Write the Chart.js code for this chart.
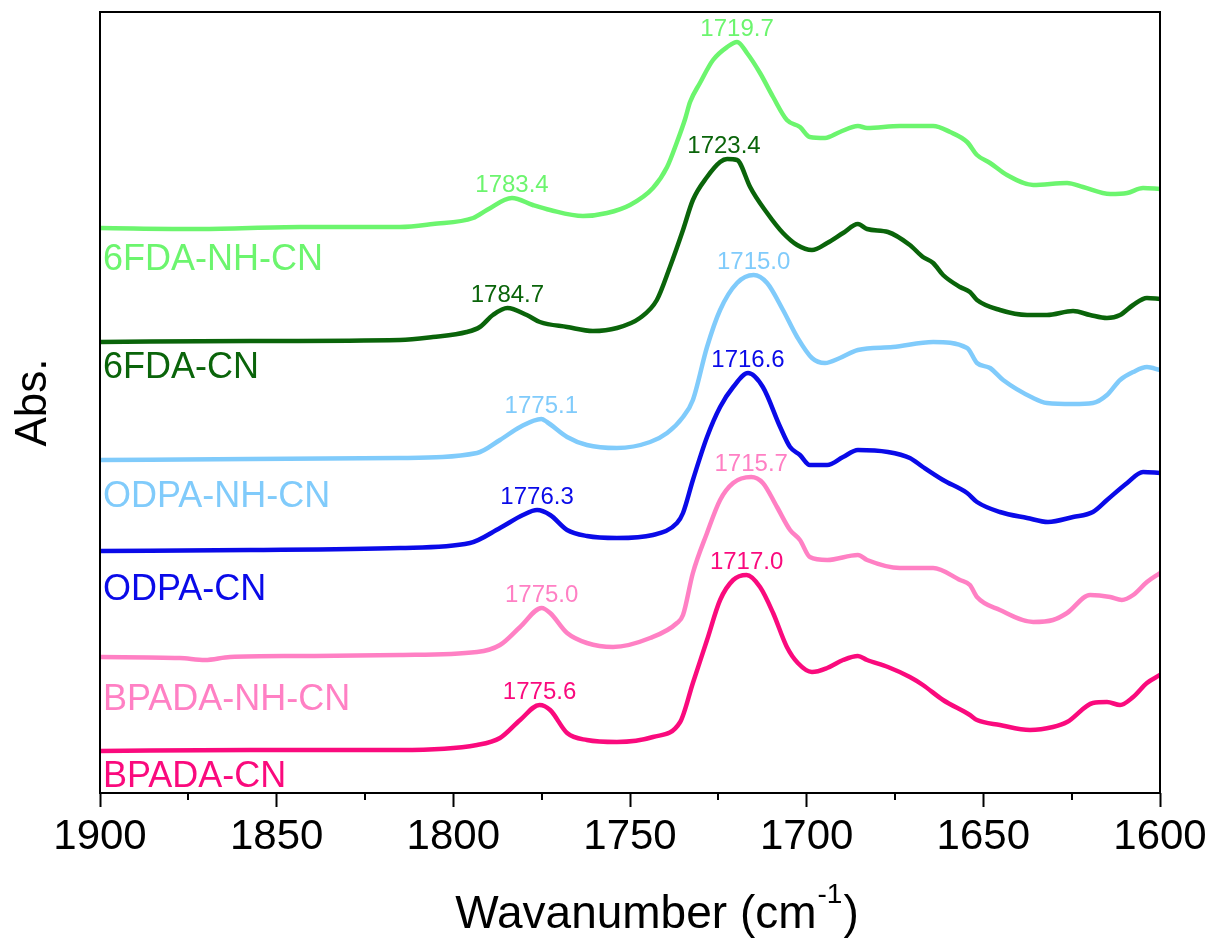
<!DOCTYPE html>
<html><head><meta charset="utf-8">
<script src="https://cdn.jsdelivr.net/npm/chart.js@4.4.1/dist/chart.umd.min.js"></script>
<style>html,body{margin:0;padding:0;background:#fff}canvas{display:block}</style>
</head><body>
<canvas id="c" width="1212" height="945"></canvas>
<script>
// ---------- data (wavenumber in cm-1, absorbance in stacked arbitrary units) ----------
const wn6FDA_NH = [1900,1871.7,1843.4,1815.1,1805.8,1794.4,1790.5,1783.4,1777.5,1772.6,1763.3,1756.5,1750.0,1743.5,1739.5,1736.7,1734.4,1733.0,1730.2,1726.5,1722.5,1719.7,1716.9,1713.2,1709.5,1705.6,1701.9,1699.1,1694.8,1690.6,1685.5,1682.9,1673.6,1664.2,1659.4,1654.6,1651.8,1648.1,1643.3,1635.9,1626.3,1621.8,1614.1,1609.3,1604.8,1600];
const abs6FDA_NH = [5.65,5.64,5.66,5.66,5.69,5.75,5.83,5.95,5.88,5.83,5.77,5.80,5.88,6.05,6.26,6.51,6.74,6.91,7.10,7.33,7.46,7.51,7.40,7.20,6.96,6.73,6.66,6.56,6.55,6.61,6.67,6.65,6.67,6.67,6.61,6.51,6.38,6.30,6.18,6.08,6.10,6.06,5.99,6.00,6.05,6.04];

const wn6FDA = [1900,1857.5,1815.1,1805.8,1796.2,1792.5,1788.8,1784.7,1779.2,1775.5,1767.8,1760.5,1753.7,1747.2,1742.4,1738.7,1735.0,1732.2,1728.2,1724.5,1722.5,1719.7,1718.9,1716.0,1711.2,1706.7,1702.7,1698.5,1694.2,1689.7,1685.5,1682.9,1677.0,1670.8,1667.1,1664.2,1661.4,1656.6,1653.8,1651.8,1645.3,1637.6,1632.0,1624.6,1619.8,1615.0,1611.3,1607.6,1603.7,1600];
const abs6FDA = [4.51,4.52,4.53,4.56,4.61,4.66,4.78,4.85,4.78,4.71,4.66,4.62,4.65,4.75,4.93,5.26,5.63,5.93,6.16,6.31,6.34,6.33,6.30,6.06,5.80,5.60,5.48,5.43,5.50,5.60,5.69,5.64,5.61,5.48,5.36,5.30,5.18,5.06,5.01,4.93,4.83,4.78,4.78,4.82,4.78,4.75,4.78,4.88,4.95,4.94];

const wnODPA_NH = [1900,1857.5,1815.1,1793.3,1786.8,1781.1,1775.1,1773.5,1767.8,1762.2,1753.7,1744.3,1739.5,1735.0,1732.2,1728.2,1724.5,1719.7,1715.0,1711.2,1706.7,1702.7,1698.5,1694.8,1690.6,1685.5,1675.6,1664.2,1654.6,1651.8,1648.1,1644.4,1635.9,1632.0,1624.6,1619.0,1615.0,1611.3,1607.6,1603.7,1600];
const absODPA_NH = [3.33,3.34,3.35,3.40,3.53,3.66,3.74,3.71,3.56,3.48,3.45,3.51,3.60,3.76,3.93,4.46,4.83,5.10,5.18,5.10,4.83,4.56,4.35,4.30,4.35,4.43,4.46,4.51,4.45,4.30,4.25,4.13,3.95,3.90,3.89,3.90,3.98,4.13,4.21,4.26,4.23];

const wnODPA = [1900,1857.5,1815.1,1795.3,1786.8,1780.3,1776.3,1772.6,1767.8,1762.2,1753.7,1743.5,1736.7,1735.0,1732.2,1728.2,1724.5,1720.8,1716.6,1712.4,1707.5,1704.7,1701.9,1699.1,1694.2,1689.7,1685.5,1677.0,1670.8,1667.1,1661.4,1654.6,1651.8,1645.3,1637.6,1631.7,1624.6,1619.0,1615.0,1609.3,1604.8,1600];
const absODPA = [2.42,2.43,2.45,2.50,2.65,2.78,2.83,2.78,2.63,2.57,2.55,2.58,2.70,2.80,3.13,3.56,3.86,4.06,4.20,4.06,3.66,3.46,3.38,3.28,3.28,3.36,3.43,3.41,3.35,3.26,3.13,3.00,2.91,2.81,2.75,2.71,2.76,2.81,2.93,3.10,3.21,3.20];

const wnBPADA_NH = [1900,1877.4,1870.3,1863.2,1843.4,1815.1,1793.3,1786.8,1781.1,1775.0,1772.6,1767.8,1762.2,1754.8,1744.3,1736.7,1735.0,1732.2,1728.2,1724.5,1720.8,1715.7,1712.4,1708.4,1704.7,1701.9,1699.1,1694.2,1685.5,1682.9,1673.6,1664.2,1656.6,1653.8,1651.8,1645.3,1635.9,1630.3,1626.3,1619.8,1614.1,1610.8,1607.6,1603.7,1600];
const absBPADA_NH = [1.36,1.35,1.33,1.36,1.37,1.38,1.41,1.48,1.66,1.85,1.80,1.60,1.50,1.46,1.55,1.70,1.78,2.20,2.60,2.93,3.10,3.16,3.10,2.86,2.63,2.53,2.36,2.33,2.38,2.33,2.25,2.25,2.13,2.08,1.96,1.83,1.71,1.73,1.80,1.98,1.96,1.93,1.98,2.11,2.20];

const wnBPADA = [1900,1857.5,1815.1,1793.3,1786.8,1781.1,1775.6,1772.6,1767.8,1762.2,1753.7,1743.5,1735.8,1732.2,1728.2,1724.5,1720.8,1717.0,1713.2,1709.5,1705.6,1702.5,1698.5,1694.2,1689.7,1685.5,1682.9,1677.0,1670.8,1667.1,1661.4,1653.8,1651.8,1645.3,1636.8,1630.3,1626.3,1619.0,1615.0,1611.3,1607.6,1603.7,1600];
const absBPADA = [0.42,0.43,0.43,0.48,0.55,0.73,0.88,0.83,0.60,0.53,0.51,0.56,0.71,1.10,1.53,1.93,2.13,2.18,2.06,1.80,1.46,1.30,1.21,1.25,1.33,1.37,1.33,1.26,1.16,1.08,0.93,0.78,0.73,0.68,0.63,0.66,0.71,0.90,0.91,0.88,0.96,1.10,1.18];

const seriesNames = ['6FDA-NH-CN','6FDA-CN','ODPA-NH-CN','ODPA-CN','BPADA-NH-CN','BPADA-CN'];
const seriesColors = ['#6cf56e','#0a640a','#80cbfb','#0a0ae8','#ff80c4','#fa0a7d'];
const seriesWn = [wn6FDA_NH, wn6FDA, wnODPA_NH, wnODPA, wnBPADA_NH, wnBPADA];
const seriesAbs = [abs6FDA_NH, abs6FDA, absODPA_NH, absODPA, absBPADA_NH, absBPADA];
const nameLabelAbs = [5.23, 4.15, 2.86, 1.93, 0.83, 0.06];

const peakSeries = [0,0,1,1,2,2,3,3,4,4,5,5];
const peakWn = [1783.4,1719.7,1784.7,1723.4,1775.1,1715.0,1776.3,1716.6,1775.0,1715.7,1775.6,1717.0];

const majorTicks = [1900,1850,1800,1750,1700,1650,1600];
const minorTicks = [1875,1825,1775,1725,1675,1625];

const FONT = '"Liberation Sans", Arial, Helvetica, sans-serif';
Chart.defaults.font.family = FONT;

const datasets = seriesNames.map((n, i) => ({
  label: n,
  data: seriesWn[i].map((w, j) => ({x: w, y: seriesAbs[i][j]})),
  borderColor: seriesColors[i],
  backgroundColor: seriesColors[i],
  borderWidth: 4.5,
  pointRadius: 0,
  cubicInterpolationMode: 'monotone',
  borderJoinStyle: 'round',
  borderCapStyle: 'round',
  fill: false
}));

const decor = {
  id: 'decor',
  afterDatasetsDraw(chart) {
    const {ctx, chartArea: a, scales: {x, y}} = chart;
    ctx.save();
    ctx.strokeStyle = '#000';
    ctx.lineWidth = 2;
    for (const v of minorTicks) {
      const px = Math.round(x.getPixelForValue(v));
      ctx.beginPath(); ctx.moveTo(px, a.bottom); ctx.lineTo(px, a.bottom + 7); ctx.stroke();
    }
    ctx.strokeRect(a.left, a.top, a.right - a.left, a.bottom - a.top);

    ctx.textAlign = 'left';
    ctx.textBaseline = 'alphabetic';
    ctx.font = '36px ' + FONT;
    seriesNames.forEach((n, i) => {
      ctx.fillStyle = seriesColors[i];
      ctx.fillText(n, a.left + 3, y.getPixelForValue(nameLabelAbs[i]));
    });

    ctx.textAlign = 'center';
    ctx.font = '24px ' + FONT;
    peakWn.forEach((w, i) => {
      const s = peakSeries[i];
      let m = -Infinity;
      seriesWn[s].forEach((xx, j) => { if (Math.abs(xx - w) <= 4) m = Math.max(m, seriesAbs[s][j]); });
      ctx.fillStyle = seriesColors[s];
      ctx.fillText(w.toFixed(1), x.getPixelForValue(w), y.getPixelForValue(m) - 6);
    });

    // x-axis title with superscript
    const t1 = 'Wavanumber (cm', sup = '-1', t3 = ')';
    ctx.fillStyle = '#000';
    ctx.textAlign = 'left';
    ctx.font = '46px ' + FONT;
    const w1 = ctx.measureText(t1).width, w3 = ctx.measureText(t3).width;
    ctx.font = '28px ' + FONT;
    const w2 = ctx.measureText(sup).width;
    const total = w1 + w2 + w3 + 2;
    const cx = (a.left + a.right) / 2 + 27;
    let x0 = cx - total / 2;
    const base = chart.height - 17;
    ctx.font = '46px ' + FONT;
    ctx.fillText(t1, x0, base);
    ctx.font = '28px ' + FONT;
    ctx.fillText(sup, x0 + w1 + 1, base - 25);
    ctx.font = '46px ' + FONT;
    ctx.fillText(t3, x0 + w1 + w2 + 2, base);
    ctx.restore();
  }
};

new Chart(document.getElementById('c'), {
  type: 'line',
  data: {datasets},
  options: {
    responsive: false,
    animation: false,
    layout: {padding: {top: 12, right: 52, left: 0, bottom: 0}},
    plugins: {legend: {display: false}, tooltip: {enabled: false}},
    scales: {
      x: {
        type: 'linear',
        reverse: true,
        min: 1600, max: 1900,
        afterFit: (s) => { s.height = 152; },
        afterBuildTicks: (s) => { s.ticks = majorTicks.map(v => ({value: v})); },
        border: {display: false},
        grid: {display: true, drawOnChartArea: false, drawTicks: true, tickLength: 14, tickWidth: 2, tickColor: '#000'},
        ticks: {autoSkip: false, maxRotation: 0, padding: 5, color: '#000', font: {size: 42},
                callback: (v) => String(v)}
      },
      y: {
        type: 'linear',
        min: 0, max: 7.81,
        afterFit: (s) => { s.width = 100; },
        border: {display: false},
        grid: {display: false},
        ticks: {display: false},
        title: {display: true, text: 'Abs.', color: '#000', font: {size: 44}, padding: {top: 7, bottom: 0}}
      }
    }
  },
  plugins: [decor]
});
</script>
</body></html>
